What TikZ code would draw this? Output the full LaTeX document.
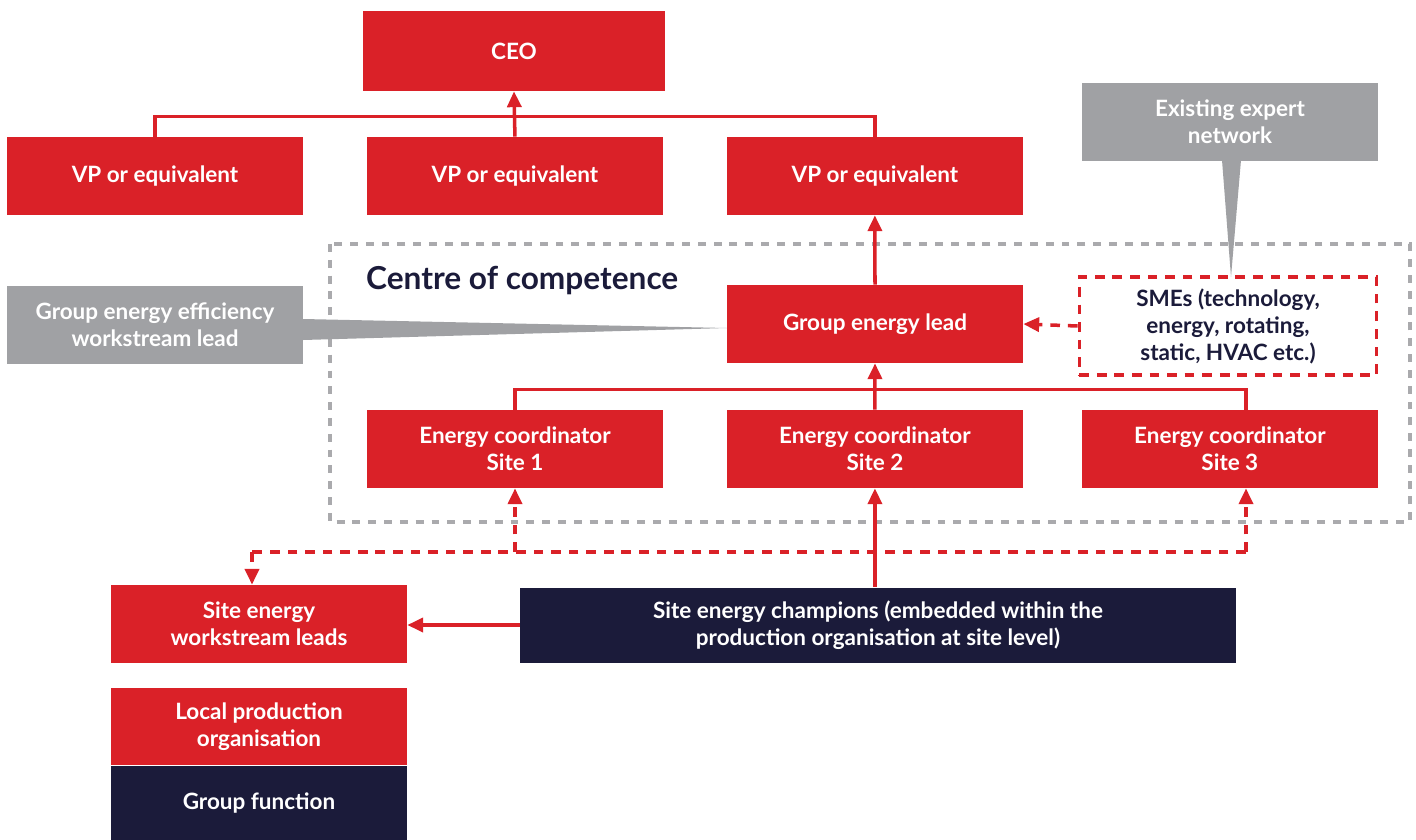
\documentclass[tikz,border=0pt]{standalone}
\usepackage{fontspec}
\setmainfont{Lato}
\usepackage{xcolor}
\usetikzlibrary{arrows.meta}

\definecolor{orgred}{HTML}{DA2128}
\definecolor{orgnavy}{HTML}{1B1B3A}
\definecolor{orggrey}{HTML}{A0A1A4}

\begin{document}
\begin{tikzpicture}[x=0.02cm, y=-0.02cm, node distance=7.2cm,
      unit/.style={rectangle, fill=orgred, text=white, inner sep=0pt,
                   font=\bfseries\fontsize{12.8}{15.4}\selectfont,
                   align=center, minimum width=5.92cm, minimum height=1.56cm},
      note/.style={unit, fill=orggrey},
      line/.style={orgred, line width=2pt},
      arrow/.style={line, -{Triangle[width=8pt, length=9pt]}},
      dasharrow/.style={arrow, dash pattern=on 5.5pt off 4.5pt}]
      \useasboundingbox (0,0) rectangle (1416,839);

      % centre of competence frame and callout pointers
      \draw[orggrey!90, line width=2.3pt, dash pattern=on 4.5pt off 4.5pt]
        (330,244) rectangle (1410,522);
      \fill[orggrey] (303,319) -- (727,328) -- (303,340) -- cycle;
      \fill[orggrey] (1222,160) -- (1231,277) -- (1241,160) -- cycle;

      \node[unit, minimum width=6.06cm, minimum height=1.6cm] (ceo) at (514,51) {CEO};
      \node[unit] (vp1) at (155,176) {VP or equivalent};
      \node[unit, right of=vp1] (vp2) {VP or equivalent};
      \node[unit, right of=vp2] (vp3) {VP or equivalent};

      \node[text=orgnavy, font=\bfseries\fontsize{18}{22}\selectfont, anchor=west]
        (coc) at (360,281) {Centre of competence};
      \node[unit] (gel) at (875,324) {Group energy lead};
      \node[unit, fill=white, text=orgnavy, draw=orgred, line width=2pt,
            dash pattern=on 5.5pt off 4.5pt, minimum width=5.95cm, minimum height=1.96cm]
        (smes) at (1228,326) {SMEs (technology,\\energy, rotating,\\static, HVAC etc.)};
      \node[note] (gewl) at (155,325) {Group energy efficiency\\workstream lead};
      \node[note, minimum width=5.92cm] (expert) at (1230,122) {Existing expert\\network};

      \node[unit] (site1) at (515,449) {Energy coordinator\\Site 1};
      \node[unit, right of=site1] (site2) {Energy coordinator\\Site 2};
      \node[unit, right of=site2, node distance=7.1cm] (site3) {Energy coordinator\\Site 3};

      \node[unit] (leads) at (259,624) {Site energy\\workstream leads};
      \node[unit, fill=orgnavy, minimum width=14.32cm, minimum height=1.5cm]
        (champ) at (878,625) {Site energy champions (embedded within the\\production organisation at site level)};

      % legend
      \node[unit, minimum height=1.54cm] (local) at (259,726.5) {Local production\\organisation};
      \node[unit, fill=orgnavy, minimum height=1.48cm, anchor=north]
        (groupfn) at (local.south) {Group function};

      % reporting lines
      \draw[line] (vp1.north) -- ++(0,-20) -| (vp3.north);
      \draw[arrow] (vp2.north) -- (ceo.south);
      \draw[arrow] (gel.north) -- (vp3.south);
      \coordinate (s3top) at ([xshift=0.32cm]site3.north);
      \draw[line] (site1.north) -- ++(0,-20) -| (s3top);
      \draw[arrow] (site2.north) -- (gel.south);
      \draw[arrow] (site2.south |- champ.north) -- (site2.south);
      \draw[arrow] (champ.west) -- (champ.west -| leads.east);
      \draw[dasharrow] (smes.west) -- (gel.east);

      % dotted links between the sites
      \coordinate (busL) at (252,552);
      \coordinate (busR) at (1246,552);
      \draw[line, dash pattern=on 5.5pt off 4.5pt] (busR) -- (busL);
      \draw[dasharrow] (busL) -- (busL |- leads.north);
      \draw[dasharrow] (site1.south |- busL) -- (site1.south);
      \draw[dasharrow] (busR) -- (busR |- site3.south);
    \end{tikzpicture}
\end{document}
